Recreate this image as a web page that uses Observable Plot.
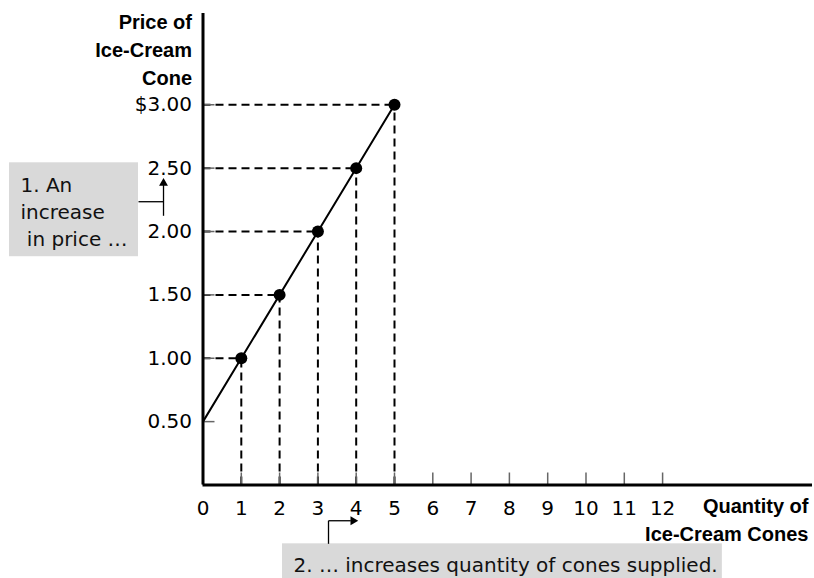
<!DOCTYPE html>
<html>
<head>
<meta charset="utf-8">
<script src="https://cdn.jsdelivr.net/npm/d3@7"></script>
<script src="https://cdn.jsdelivr.net/npm/@observablehq/plot@0.6"></script>
<style>
  html, body { margin: 0; padding: 0; background: #fff; overflow: hidden; }
  #chart { width: 814px; height: 578px; }
</style>
</head>
<body>
<div id="chart"></div>
<script>
// Supply schedule (quantity of cones at each price)
const quantities = [1, 2, 3, 4, 5];
const prices = [1.00, 1.50, 2.00, 2.50, 3.00];
// Supply curve end points
const curveQuantities = [0, 5];
const curvePrices = [0.50, 3.00];
// Axis ticks
const xTicks = [0, 1, 2, 3, 4, 5, 6, 7, 8, 9, 10, 11, 12];
const yTicks = [0.5, 1.0, 1.5, 2.0, 2.5, 3.0];
const yTickLabels = ["0.50", "1.00", "1.50", "2.00", "2.50", "$3.00"];
// Texts
const yTitle = "Price of\nIce-Cream\nCone";
const xTitle = "Quantity of\nIce-Cream Cones";
const note1 = "1. An\nincrease\n\u00a0in price …";
const note2 = "2. … increases quantity of cones supplied.";

const points = quantities.map((q, i) => ({q, p: prices[i]}));
const curve = curveQuantities.map((q, i) => ({q, p: curvePrices[i]}));

const tickFmt = d => yTickLabels[yTicks.indexOf(d)];

const plot = Plot.plot({
  width: 814,
  height: 578,
  marginLeft: 202.5,
  marginRight: 2,
  marginTop: 13,
  marginBottom: 93.5,
  x: {domain: [0, 15.914]},
  y: {domain: [0, 3.72]},
  style: {fontFamily: "DejaVu Sans", fontSize: "20px", background: "#fff", color: "#000", overflow: "visible"},
  marks: [
    // annotation boxes
    Plot.rect([note1], {x1: -5.052, x2: -1.684, y1: 1.801, y2: 2.542, fill: "#d9d9d9"}),
    Plot.rect([note2], {x1: 2.076, x2: 13.56, y1: -0.738, y2: -0.464, fill: "#d9d9d9"}),
    // dashed guide lines
    Plot.ruleY(points, {y: "p", x1: 0, x2: "q", stroke: "#000", strokeWidth: 2, strokeDasharray: "8,5"}),
    Plot.ruleX(points, {x: "q", y1: 0, y2: "p", stroke: "#000", strokeWidth: 2, strokeDasharray: "8,5"}),
    // supply curve
    Plot.line(curve, {x: "q", y: "p", stroke: "#000", strokeWidth: 2}),
    Plot.dot(points, {x: "q", y: "p", r: 6, fill: "#000", stroke: null}),
    // axes
    Plot.axisX({ticks: xTicks, tickSize: -12, tickPadding: 27.3, stroke: "#666", strokeWidth: 1.5, fill: "#000", label: null, fontSize: 20}),
    Plot.axisY({ticks: yTicks, tickSize: -12, tickPadding: 23, tickFormat: tickFmt, stroke: "#666", strokeWidth: 1.5, fill: "#000", label: null, fontSize: 20}),
    Plot.ruleX([0], {stroke: "#000", strokeWidth: 3}),
    Plot.ruleY([0], {stroke: "#000", strokeWidth: 3}),
    // axis titles
    Plot.text([yTitle], {frameAnchor: "top-left", dx: -11, dy: -3.9, textAnchor: "end", lineAnchor: "top", lineHeight: 1.4, fontWeight: "bold", fontFamily: "Liberation Sans", fontSize: 20, fill: "#000"}),
    Plot.text([xTitle], {frameAnchor: "bottom-right", dx: -4, dy: 8.6, textAnchor: "end", lineAnchor: "top", lineHeight: 1.4, fontWeight: "bold", fontFamily: "Liberation Sans", fontSize: 20, fill: "#000"}),
    // annotation texts
    Plot.text([note1], {x: -4.765, y: 2.459, textAnchor: "start", lineAnchor: "top", lineHeight: 1.35, fontSize: 20, fill: "#111"}),
    Plot.text([note2], {x: 2.363, y: -0.578, textAnchor: "start", lineAnchor: "top", fontSize: 20, fill: "#111"}),
    // annotation arrows
    Plot.link([note1], {x1: -1.684, x2: -1.031, y1: 2.235, y2: 2.235, stroke: "#000", strokeWidth: 1.3}),
    Plot.link([note1], {x1: -1.031, x2: -1.031, y1: 2.124, y2: 2.37, stroke: "#000", strokeWidth: 1.3}),
    Plot.dot([note1], {x: -1.031, y: 2.381, symbol: "triangle", r: 3.3, fill: "#000", stroke: null}),
    Plot.link([note2], {x1: 3.277, x2: 3.277, y1: -0.464, y2: -0.282, stroke: "#000", strokeWidth: 1.3}),
    Plot.link([note2], {x1: 3.277, x2: 3.86, y1: -0.282, y2: -0.282, stroke: "#000", strokeWidth: 1.3}),
    Plot.dot([note2], {x: 3.919, y: -0.282, symbol: "triangle", rotate: 90, r: 3.3, fill: "#000", stroke: null})
  ]
});
document.getElementById("chart").appendChild(plot);
</script>
</body>
</html>
